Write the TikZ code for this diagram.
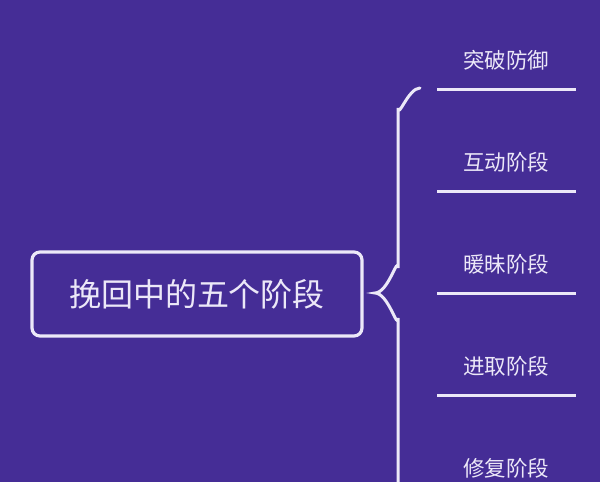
\documentclass[tikz,border=0pt]{standalone}
\usepackage{fontspec}
\newfontfamily\cjk{Noto Sans CJK SC}
\definecolor{bgpurple}{RGB}{69,45,150}
\definecolor{linewhite}{RGB}{236,232,248}

\begin{document}
\begin{tikzpicture}[x=1pt,y=-1pt,
  stage/.style={text=linewhite, font=\cjk\fontsize{21.5}{21.5}\selectfont},
  rule/.style={linewhite, line width=3pt}]
\fill[bgpurple] (0,0) rectangle (600,482);
\useasboundingbox (0,0) rectangle (600,482);
% main box
\node[draw=linewhite, line width=3.2pt, rounded corners=8pt, minimum width=330pt, minimum height=84pt,
  text=linewhite, font=\cjk\fontsize{32}{32}\selectfont] (main) at (197,294) {挽回中的五个阶段};
% brace
\draw[rule, line cap=round] (420,88) to [out=180,in=-90] (398,108) -- (398,268)
  to [out=90,in=0] (375,293) to [out=0,in=-90] (398,318) -- (398,486) to [out=90,in=180] (420,506);
% stages
\node[stage] (s1) at (506,60) {突破防御};
\node[stage] (s2) at (506,162) {互动阶段};
\node[stage] (s3) at (506,264) {暖昧阶段};
\node[stage] (s4) at (506,366) {进取阶段};
\node[stage] (s5) at (506,468) {修复阶段};
\draw[rule] (437,89) -- (576,89);
\draw[rule] (437,191) -- (576,191);
\draw[rule] (437,293) -- (576,293);
\draw[rule] (437,395) -- (576,395);
\end{tikzpicture}
\end{document}
